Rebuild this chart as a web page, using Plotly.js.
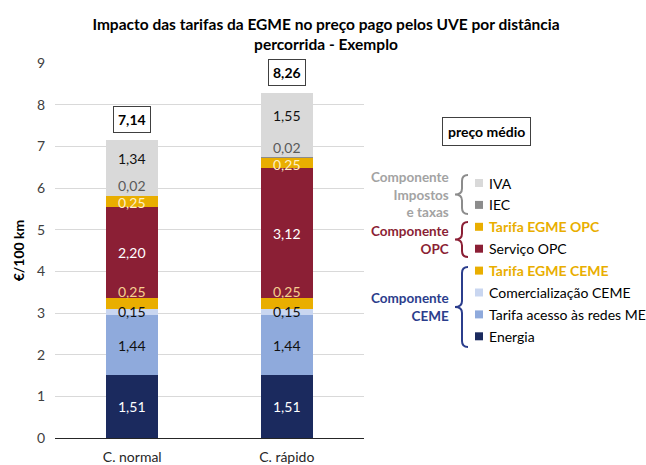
<!DOCTYPE html>
<html><head><meta charset="utf-8">
<script src="https://cdn.plot.ly/plotly-3.0.1.min.js"></script>
<style>html,body{margin:0;padding:0;background:#fff}#chart{width:646px;height:465px}</style>
</head><body><div id="chart"></div>
<script>
// ---- data ----
const categories = ['C. normal', 'C. rápido'];
const seriesNames = ['Energia', 'Tarifa acesso às redes ME', 'Comercialização CEME', 'Tarifa EGME CEME',
                     'Serviço OPC', 'Tarifa EGME OPC', 'IEC', 'IVA'];
const energia = [1.51, 1.51];
const tarifaAcesso = [1.44, 1.44];
const comercializacao = [0.15, 0.15];
const tarifaEgmeCeme = [0.25, 0.25];
const servicoOpc = [2.20, 3.12];
const tarifaEgmeOpc = [0.25, 0.25];
const iec = [0.02, 0.02];
const iva = [1.34, 1.55];
const totals = [7.14, 8.26];
const totalBoxLabel = 'preço médio';
const groupLabels = ['Componente<br>Impostos<br>e taxas', 'Componente<br>OPC', 'Componente<br>CEME'];
const chartTitle = 'Impacto das tarifas da EGME no preço pago pelos UVE por distância<br>percorrida - Exemplo';
const yTitle = '€/100 km';

const seriesValues = [energia, tarifaAcesso, comercializacao, tarifaEgmeCeme, servicoOpc, tarifaEgmeOpc, iec, iva];

// ---- styles ----
const FONT = 'Lato, "Open Sans", sans-serif';
const barColors = ['#1B2A5E', '#8FAADC', '#C9D6F0', '#E9AE00', '#8B1F35', '#E9AE00', '#8C8C8C', '#D9D9D9'];
const labelColors = ['#FFFFFF', '#111111', '#111111', '#F7CF90', '#FFFFFF', '#FFF0C8', '#595959', '#111111'];
const labelShift = [0, 0, 0, 12, 0, -1, 10, 9];
const legendBold = [false, false, false, true, false, true, false, false];

// layout geometry (px)
const W = 646, H = 465;
const M = {l: 55, r: 282, t: 63, b: 27, autoexpand: false};
const pw = W - M.l - M.r, ph = H - M.t - M.b;
const px = x => (x - M.l) / pw;
const py = y => (H - M.b - y) / ph;

const fmt = v => v.toFixed(2).replace('.', ',');

const traces = seriesNames.map((name, i) => ({
  type: 'bar',
  x: categories,
  y: seriesValues[i],
  name: name,
  marker: {color: barColors[i], line: {width: 0}},
  hoverinfo: 'skip'
}));

const annotations = [];
const shapes = [];
// segment labels
const cum = categories.map(() => 0);
seriesValues.forEach((vals, i) => {
  vals.forEach((v, j) => {
    const mid = cum[j] + v / 2;
    cum[j] += v;
    annotations.push({
      x: categories[j], y: mid, xref: 'x', yref: 'y',
      text: fmt(v), showarrow: false, yshift: labelShift[i],
      font: {family: FONT, size: 14, color: labelColors[i]}
    });
  });
});
// total boxes
totals.forEach((t, j) => {
  annotations.push({
    x: categories[j], y: cum[j], xref: 'x', yref: 'y',
    text: '<b>' + fmt(t) + '</b>', showarrow: false, yanchor: 'bottom', yshift: 7,
    bordercolor: '#404040', borderwidth: 1, borderpad: 4, bgcolor: '#FFFFFF',
    font: {family: FONT, size: 14, color: '#000000'}
  });
});
// "preço médio" box
annotations.push({
  x: px(486), y: py(131), xref: 'paper', yref: 'paper', xanchor: 'center', yanchor: 'middle',
  text: '<b>' + totalBoxLabel + '</b>', showarrow: false,
  bordercolor: '#404040', borderwidth: 1, borderpad: 5, bgcolor: '#FFFFFF',
  font: {family: FONT, size: 14, color: '#000000'}
});
// legend (top item = last series)
const legendTop = 183, legendStep = 21.9;
for (let i = seriesNames.length - 1, k = 0; i >= 0; i--, k++) {
  const yc = legendTop + k * legendStep;
  shapes.push({type: 'rect', xref: 'paper', yref: 'paper',
    x0: px(475), x1: px(483), y0: py(yc - 4), y1: py(yc + 4),
    fillcolor: barColors[i], line: {width: 0}});
  annotations.push({
    x: px(487), y: py(yc), xref: 'paper', yref: 'paper', xanchor: 'left', yanchor: 'middle',
    text: legendBold[i] ? '<b>' + seriesNames[i] + '</b>' : seriesNames[i], showarrow: false,
    font: {family: FONT, size: 14, color: legendBold[i] ? '#E9AE00' : '#000000'}
  });
}
// group labels
const groupColors = ['#A3A3A3', '#8B1F35', '#2B3D8C'];
const groupCenters = [194, 239.5, 306.5];
groupLabels.forEach((g, k) => {
  annotations.push({
    x: px(451), y: py(groupCenters[k]), xref: 'paper', yref: 'paper',
    xanchor: 'right', yanchor: 'middle', align: 'right',
    text: '<b>' + g + '</b>', showarrow: false,
    font: {family: FONT, size: 13.5, color: groupColors[k]}
  });
});

// braces
function brace(y0, y1, color) {
  const xr = 468, xs = 462, xt = 455, r = 6, ym = (y0 + y1) / 2;
  const P = (x, y) => px(x) + ',' + py(y);
  const path = 'M' + P(xr, y0) + ' Q' + P(xs, y0) + ' ' + P(xs, y0 + r) +
    ' L' + P(xs, ym - r) + ' Q' + P(xs, ym) + ' ' + P(xt, ym) +
    ' Q' + P(xs, ym) + ' ' + P(xs, ym + r) +
    ' L' + P(xs, y1 - r) + ' Q' + P(xs, y1) + ' ' + P(xr, y1);
  return {type: 'path', xref: 'paper', yref: 'paper', path: path,
          line: {color: color, width: 2}};
}
shapes.push(brace(175, 214, '#8C8C8C'));
shapes.push(brace(222, 257, '#8B1F35'));
shapes.push(brace(267, 347, '#2B3D8C'));

const layout = {
  width: W, height: H,
  margin: M,
  paper_bgcolor: '#FFFFFF', plot_bgcolor: '#FFFFFF',
  font: {family: FONT, size: 14, color: '#404040'},
  title: {text: '<b>' + chartTitle + '</b>', x: 326 / W, xanchor: 'center', y: 1 - 30 / H, yanchor: 'middle',
          font: {family: FONT, size: 15.5, color: '#000000'}},
  barmode: 'stack',
  bargap: 0.663,
  hovermode: false,
  showlegend: false,
  xaxis: {type: 'category', showgrid: false, showline: true, linecolor: '#262626', linewidth: 1,
          ticks: '', ticklabelstandoff: 6, tickfont: {family: FONT, size: 14, color: '#262626'}, fixedrange: true},
  yaxis: {range: [0, 9], dtick: 1, showgrid: true, gridcolor: '#D9D9D9', gridwidth: 1, zeroline: false,
          ticks: '', ticklabelstandoff: 9, tickfont: {family: FONT, size: 14, color: '#404040'},
          title: {text: '<b>' + yTitle + '</b>', standoff: 8, font: {family: FONT, size: 14, color: '#000000'}},
          fixedrange: true},
  annotations: annotations,
  shapes: shapes
};

Plotly.newPlot('chart', traces, layout, {displayModeBar: false, staticPlot: true});
</script>
</body></html>
